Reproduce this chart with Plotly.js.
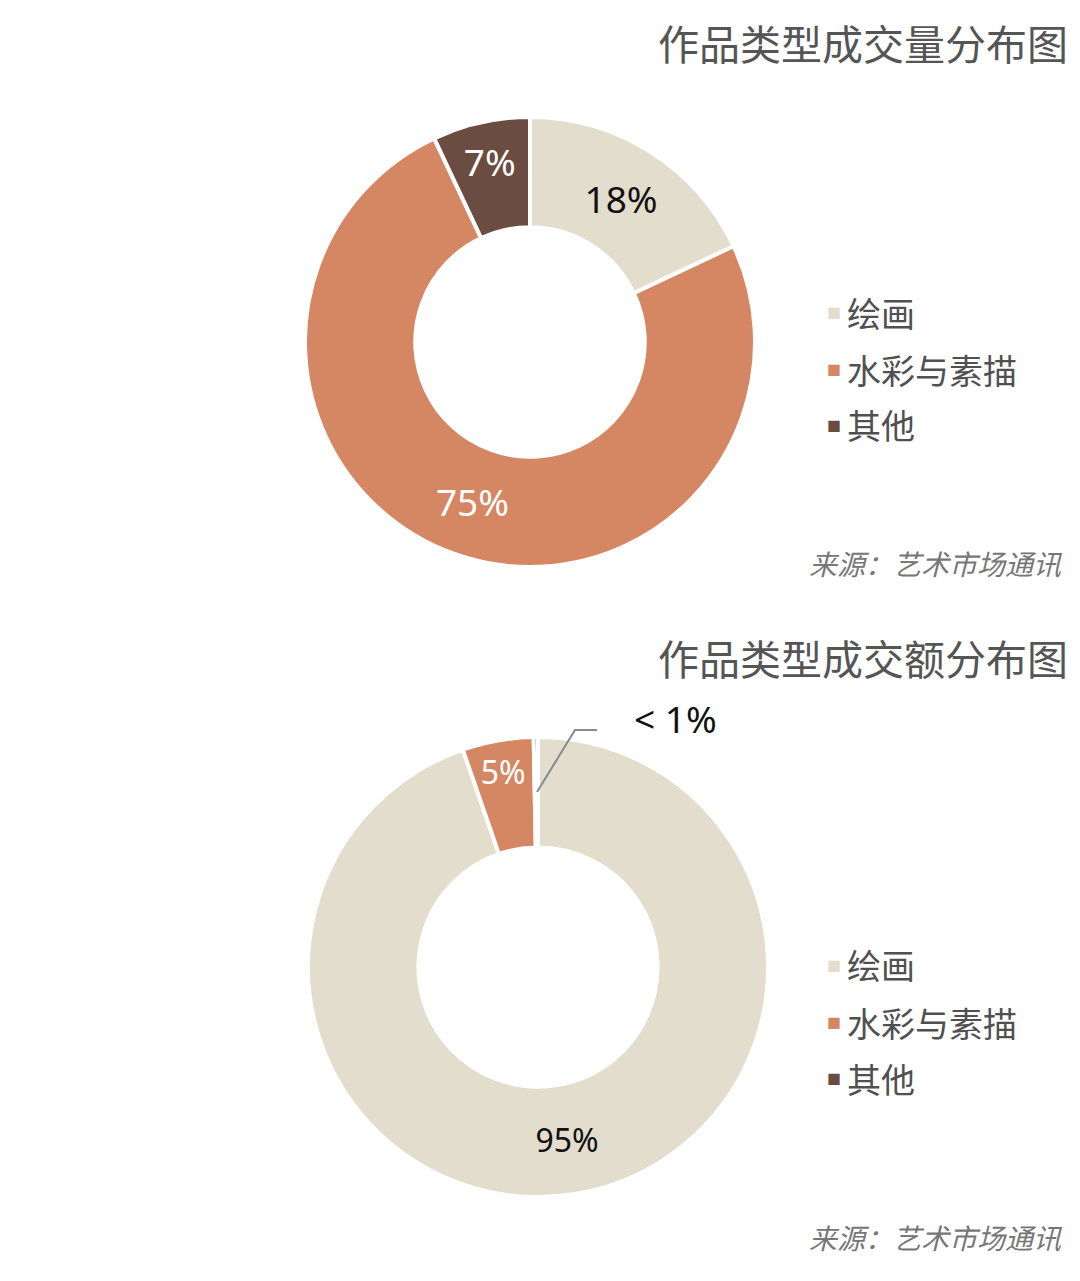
<!DOCTYPE html>
<html>
<head>
<meta charset="utf-8">
<script src="https://cdn.plot.ly/plotly-3.0.1.min.js"></script>
<style>
  html, body { margin: 0; padding: 0; background: #ffffff; }
  #chart { width: 1080px; height: 1281px; }
</style>
</head>
<body>
<div id="chart"></div>
<script>
// Categories and colours
const categories = ['绘画', '水彩与素描', '其他'];
const sliceColors = ['#e2ddcc', '#d58662', '#6b4c40'];

// Top chart: 成交量 share (%)
const volumeValues = [18, 75, 7];
const volumeText = ['18%', '75%', '7%'];
const volumeTextColors = ['#111111', '#ffffff', '#ffffff'];

// Bottom chart: 成交额 share (%)
const amountValues = [94.7, 5.0, 0.3];
const amountText = ['95%', '5%', '< 1%'];
const amountTextColors = ['#111111', '#ffffff', '#111111'];

const titles = ['作品类型成交量分布图', '作品类型成交额分布图'];
const sourceText = '来源：艺术市场通讯';

const W = 1080, H = 1281;
const px = x => x / W;           // pixel -> paper x
const py = y => 1 - y / H;       // pixel -> paper y

const FONT_CJK = '"Noto Sans CJK SC", "Noto Sans", sans-serif';
const FONT_NUM = '"Noto Sans", "Open Sans", sans-serif';

// Build a donut trace
function makeDonut(values, texts, textColors, domain, hole, size, positions) {
    return {
        type: 'pie',
        labels: categories,
        values: values,
        text: texts,
        texttemplate: '%{text}',
        textinfo: 'text',
        textposition: positions,
        insidetextorientation: 'horizontal',
        insidetextfont: { color: textColors, size: size, family: FONT_NUM },
        hole: hole,
        sort: false,
        direction: 'clockwise',
        rotation: 0,
        domain: domain,
        marker: { colors: sliceColors, line: { color: '#ffffff', width: 4 } },
        showlegend: false,
        hoverinfo: 'label+percent'
    };
}

const topDonut = makeDonut(volumeValues, volumeText, volumeTextColors,
    { x: [px(305), px(755)], y: [py(567), py(117)] }, 0.51, 37,
    ['inside', 'inside', 'inside']);

const bottomDonut = makeDonut(amountValues, amountText, amountTextColors,
    { x: [px(308), px(768)], y: [py(1197), py(737)] }, 0.52, 32,
    ['inside', 'inside', 'none']);

// Legend entries (one block per chart), built from categories and colours
function legendBlock(yList) {
    const out = [];
    categories.forEach((name, i) => {
        out.push({
            xref: 'paper', yref: 'paper', x: px(825), y: py(yList[i]),
            xanchor: 'left', yanchor: 'middle', showarrow: false,
            text: '■', font: { size: 14, color: sliceColors[i], family: FONT_CJK }
        });
        out.push({
            xref: 'paper', yref: 'paper', x: px(845), y: py(yList[i]),
            xanchor: 'left', yanchor: 'middle', showarrow: false,
            text: name, font: { size: 34, color: '#505050', family: FONT_CJK }
        });
    });
    return out;
}

const annotations = [
    {
        xref: 'paper', yref: 'paper', x: px(1070), y: py(42),
        xanchor: 'right', yanchor: 'middle', showarrow: false,
        text: titles[0], font: { size: 41, color: '#555555', family: FONT_CJK }
    },
    {
        xref: 'paper', yref: 'paper', x: px(1070), y: py(657),
        xanchor: 'right', yanchor: 'middle', showarrow: false,
        text: titles[1], font: { size: 41, color: '#555555', family: FONT_CJK }
    },
    {
        xref: 'paper', yref: 'paper', x: px(1065), y: py(563),
        xanchor: 'right', yanchor: 'middle', showarrow: false,
        text: '<i>' + sourceText + '</i>', font: { size: 28, color: '#777777', family: FONT_CJK }
    },
    {
        xref: 'paper', yref: 'paper', x: px(1065), y: py(1237),
        xanchor: 'right', yanchor: 'middle', showarrow: false,
        text: '<i>' + sourceText + '</i>', font: { size: 28, color: '#777777', family: FONT_CJK }
    },
    // outside label for the tiny slice
    {
        xref: 'paper', yref: 'paper', x: px(632), y: py(718),
        xanchor: 'left', yanchor: 'middle', showarrow: false,
        text: amountText[2], font: { size: 37, color: '#111111', family: FONT_NUM }
    }
].concat(legendBlock([312, 369, 425]), legendBlock([965, 1022, 1078]));

const layout = {
    width: W,
    height: H,
    paper_bgcolor: '#ffffff',
    plot_bgcolor: '#ffffff',
    margin: { t: 0, b: 0, l: 0, r: 0 },
    showlegend: false,
    annotations: annotations,
    shapes: [
        {
            type: 'path', xref: 'paper', yref: 'paper',
            path: `M${px(537)},${py(792)} L${px(575)},${py(730)} L${px(597)},${py(730)}`,
            line: { color: '#8a8a8a', width: 2 }
        }
    ]
};

const config = { responsive: false, displayModeBar: false, staticPlot: true };

Plotly.newPlot('chart', [topDonut, bottomDonut], layout, config);
</script>
</body>
</html>
